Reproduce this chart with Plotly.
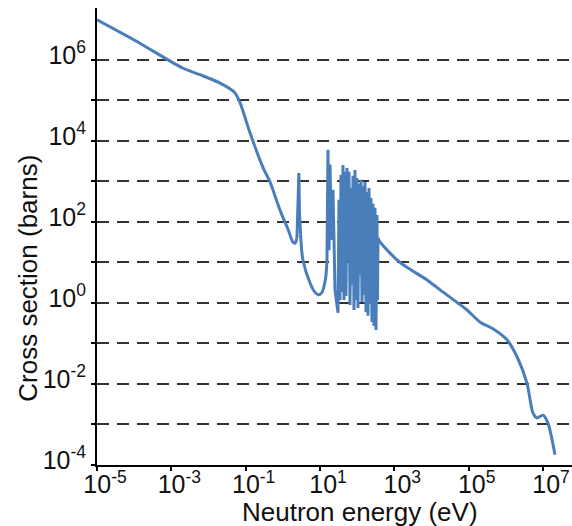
import plotly.graph_objects as go

# Neutron energy (eV) and cross section (barns) along the curve
energy_ev = [
    1e-5, 1e-4, 8.1e-4, 2.0e-3, 5.9e-3, 2.0e-2, 5.1e-2, 7.1e-2, 0.13, 0.30,
    0.45, 0.83, 1.4, 1.86, 2.14, 2.4, 2.57, 2.7, 2.8, 3.0,
    3.47, 5.4, 7.1, 8.9, 11.2, 14.1, 15.4, 16.4, 17.5, 18.6,
    20.4, 22.4, 25.3, 30.5,
    32.4, 34.5, 36.7, 39.0, 41.5, 44.2, 47.0, 50.0, 53.2, 56.6,
    60.2, 64.1, 68.2, 72.5, 77.2, 82.1, 87.3, 92.9, 98.8, 105.1,
    111.9, 119.0, 126.6, 134.7, 143.3, 152.5, 162.3, 172.6, 183.6, 195.4,
    207.9, 221.1, 235.3, 250.3, 266.3, 283.4, 301.5, 320.8, 341.3, 351.9,
    363.1, 411, 1410, 7600, 1.7e4, 5.1e4, 8.9e4, 2.0e5, 4.5e5, 1.07e6,
    2.0e6, 3.7e6, 5.4e6, 6.9e6, 1.0e7, 1.35e7, 2.1e7,
]
cross_section_b = [
    9.8e6, 3.1e6, 1.0e6, 6.3e5, 4.3e5, 2.7e5, 1.55e5, 8.7e4, 1.6e4, 2.1e3,
    9.8e2, 2.0e2, 63, 32, 30, 40, 200, 1.6e3, 160, 50,
    11.5, 3.1, 1.9, 1.6, 1.8, 4.0, 11.5, 6000, 20, 2600,
    36, 620, 2.1, 0.57,
    350, 1.19, 1450, 1.87, 2550, 1.19, 1720, 1.49, 2150, 10.3,
    1720, 0.89, 690, 2.8, 1370, 0.67, 1920, 1.19, 1220, 0.75,
    870, 4.9, 1090, 1.06, 775, 1.58, 970, 0.60, 550, 0.48,
    690, 0.94, 390, 0.34, 280, 0.27, 222, 0.215, 149, 1.19,
    40, 32, 10, 3.7, 2.1, 1.0, 0.68, 0.34, 0.23, 0.123,
    0.047, 0.0105, 1.9e-3, 1.45e-3, 1.7e-3, 1.1e-3, 1.8e-4,
]

# Energy ranges drawn smooth (spline) or straight (sharp resonance peaks)
segments = [
    (1e-5, 2.4, "spline"),
    (2.4, 3.0, "linear"),
    (3.0, 15.4, "spline"),
    (15.4, 363.1, "linear"),
    (363.1, 2.1e7, "spline"),
]

# Axis ticks
x_tick_vals = [1e-5, 1e-3, 1e-1, 1e1, 1e3, 1e5, 1e7]
x_tick_text = ["10<sup>-5</sup>", "10<sup>-3</sup>", "10<sup>-1</sup>", "10<sup>1</sup>",
               "10<sup>3</sup>", "10<sup>5</sup>", "10<sup>7</sup>"]
y_tick_vals = [1e-4, 1e-3, 1e-2, 1e-1, 1e0, 1e1, 1e2, 1e3, 1e4, 1e5, 1e6]
y_tick_text = ["10<sup>-4</sup>", "", "10<sup>-2</sup>", "", "10<sup>0</sup>", "",
               "10<sup>2</sup>", "", "10<sup>4</sup>", "", "10<sup>6</sup>"]

FONT = "Liberation Sans, Arial, sans-serif"
LINE_COLOR = "#4A7EBB"

fig = go.Figure()
for lo, hi, shape in segments:
    xs = [e for e in energy_ev if lo <= e <= hi]
    ys = [s for e, s in zip(energy_ev, cross_section_b) if lo <= e <= hi]
    fig.add_trace(
        go.Scatter(
            x=xs, y=ys, mode="lines",
            line=dict(color=LINE_COLOR, width=3, shape=shape, smoothing=0.8),
            showlegend=False, hoverinfo="skip",
        )
    )

fig.update_layout(
    width=572, height=526,
    margin=dict(l=97, r=0, t=8, b=61),
    paper_bgcolor="white", plot_bgcolor="white",
    font=dict(family=FONT, color="#111111", size=25),
)

fig.update_xaxes(
    type="log", range=[-5, 7.78],
    tickmode="array", tickvals=x_tick_vals, ticktext=x_tick_text,
    ticks="outside", ticklen=4, tickwidth=2, tickcolor="black",
    ticklabelshift=8, ticklabelstandoff=-8,
    showline=True, linecolor="black", linewidth=2,
    showgrid=False, zeroline=False,
    tickfont=dict(size=25),
)
fig.update_yaxes(
    type="log", range=[-4, 7.28],
    tickmode="array", tickvals=y_tick_vals, ticktext=y_tick_text,
    ticks="outside", ticklen=4, tickwidth=2, tickcolor="black",
    ticklabelshift=-5,
    showline=True, linecolor="black", linewidth=2,
    showgrid=True, gridcolor="#333333", gridwidth=1.5, griddash="12px,8px",
    zeroline=False,
    tickfont=dict(size=25),
)

# Axis titles
fig.add_annotation(
    text="Neutron energy (eV)", xref="paper", yref="paper",
    x=0.554, y=-0.103, xanchor="center", yanchor="middle",
    showarrow=False, font=dict(size=26, family=FONT, color="#111111"),
)
fig.add_annotation(
    text="Cross section (barns)", xref="paper", yref="paper",
    x=-0.147, y=0.408, xanchor="center", yanchor="middle", textangle=-90,
    showarrow=False, font=dict(size=26, family=FONT, color="#111111"),
)

fig.write_html("out.html")
